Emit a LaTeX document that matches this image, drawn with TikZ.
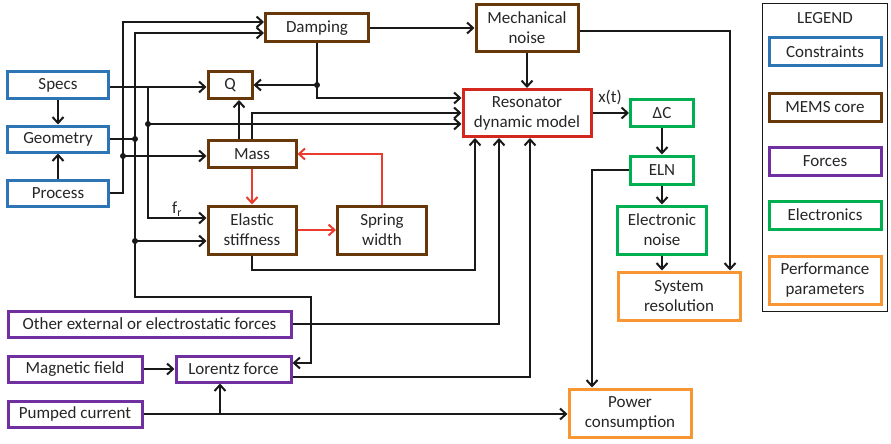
\documentclass[tikz,border=0pt]{standalone}
\usepackage{fontspec}
\setmainfont{Carlito}
\usetikzlibrary{arrows.meta,calc}
\definecolor{cblue}{RGB}{46,117,182}
\definecolor{cbrown}{RGB}{102,56,10}
\definecolor{cpurple}{RGB}{112,48,160}
\definecolor{cgreen}{RGB}{0,176,80}
\definecolor{corange}{RGB}{247,150,50}
\definecolor{cred}{RGB}{210,40,30}
\definecolor{cred2}{RGB}{235,60,45}
\definecolor{lk}{RGB}{25,25,25}
\definecolor{txt}{RGB}{38,38,38}
\tikzset{
  nbox/.style={draw, line width=3pt, fill=white, inner sep=0pt, align=center, text=txt},
  bl/.style={nbox, draw=cblue},
  br/.style={nbox, draw=cbrown},
  pu/.style={nbox, draw=cpurple},
  gr/.style={nbox, draw=cgreen},
  og/.style={nbox, draw=corange},
  rd/.style={nbox, draw=cred},
  sz/.style 2 args={minimum width=#1, minimum height=#2},
  conn/.style={line width=2pt, draw=lk},
  arr/.style={conn, -{Straight Barb[length=6pt,width=11pt]}},
  redarr/.style={arr, draw=cred2, line width=2pt},
  jdot/.style={fill=lk}
}
\begin{document}
\begin{tikzpicture}[x=1pt,y=-1pt,font=\fontsize{17}{20}\selectfont]
\useasboundingbox (0,0) rectangle (891,444);
% nodes
\node[bl, sz={101pt}{27pt}] (specs) at (58,85) {Specs};
\node[bl, sz={101pt}{26pt}] (geom) at (58,139) {Geometry};
\node[bl, sz={101pt}{26pt}] (proc) at (58,193) {Process};
\node[br, sz={103pt}{28pt}] (damp) at (317,28) {Damping};
\node[br, sz={44pt}{27pt}] (q) at (230,85) {Q};
\node[br, sz={88pt}{27pt}] (mass) at (252,154) {Mass};
\node[br, sz={88pt}{48pt}] (elas) at (252,230) {Elastic\\stiffness};
\node[br, sz={89pt}{48pt}] (spring) at (382,230) {Spring\\width};
\node[br, sz={102pt}{47pt}] (mech) at (527,28) {Mechanical\\noise};
\node[rd, sz={128pt}{47pt}] (reso) at (527,113) {Resonator\\dynamic model};
\node[gr, sz={63pt}{27pt}] (dc) at (662,113) {ΔC};
\node[gr, sz={63pt}{28pt}] (eln) at (662,170) {ELN};
\node[gr, sz={89pt}{48pt}] (enoise) at (662,230) {Electronic\\noise};
\node[og, sz={122pt}{48pt}] (sysres) at (679,296) {System\\resolution};
\node[pu, sz={283pt}{26pt}] (other) at (149.5,324) {Other external or electrostatic forces};
\node[pu, sz={134pt}{26pt}] (mag) at (75,369) {Magnetic field};
\node[pu, sz={115pt}{26pt}] (lor) at (233.5,369) {Lorentz force};
\node[pu, sz={134pt}{26pt}] (pump) at (75,414) {Pumped current};
\node[og, sz={122pt}{48pt}] (power) at (630,413) {Power\\consumption};
% legend
\node[draw=lk, line width=1.4pt, inner sep=0pt, sz={125pt}{308pt}] (legend) at (825,157.5) {};
\node[text=txt, inner sep=0pt] (legt) at (825,18.5) {LEGEND};
\node[bl, sz={112pt}{28pt}] (lc) at (825,52) {Constraints};
\node[br, sz={112pt}{28pt}] (lm) at (825,107) {MEMS core};
\node[pu, sz={112pt}{28pt}] (lf) at (825,161) {Forces};
\node[gr, sz={112pt}{28pt}] (le) at (825,215) {Electronics};
\node[og, sz={112pt}{48pt}] (lp) at (825,280) {Performance\\parameters};
% labels
\node[text=txt, inner sep=0pt] (xt) at (610,97) {x(t)};
\node[text=txt, inner sep=0pt] (fr) at (177,209) {f\textsubscript{r}};
% junctions
\coordinate (jP) at (123,156);
\coordinate (jG) at (135,139);
\coordinate (jG2) at (135,241);
\coordinate (jL) at (135,297);
\coordinate (jL2) at (311,297);
\coordinate (jS0) at (148,87);
\coordinate (jS) at (148,124);
\coordinate (jD) at (317,85);
\coordinate (mq) at ([xshift=-13pt]mass.north);
\coordinate (pl) at ([xshift=-13.5pt]lor.south);
% constraints
\draw[arr] (specs.south) -- (geom.north);
\draw[arr] (proc.north) -- (geom.south);
\draw[arr] (proc.east) -| ([xshift=-141pt,yshift=6pt]damp.west) -- ([yshift=6pt]damp.west);
\draw[arr] (jP) -- (mass.west |- jP);
\draw[conn] (geom.east) -- (jG);
\draw[arr] (jG) |- ([yshift=-5pt]damp.west);
\draw[arr] (jG) |- (elas.west |- jG2);
\draw[arr] (jG2) -- (jL) -- (jL2) |- ([yshift=6pt]lor.east);
\draw[arr] ([yshift=-2pt]specs.east) -- ([yshift=-2pt]q.west);
\draw[arr] (jS0) |- ([yshift=12pt]elas.west);
\draw[arr] (jS) -- (reso.west |- jS);
% core
\draw[conn] (damp.south) -- (jD);
\draw[arr] (jD) -- (q.east |- jD);
\draw[arr] (jD) |- ([yshift=15pt]reso.west);
\draw[arr] (mq) -- (mq |- q.south);
\draw[arr] (mass.north) |- (reso.west);
\draw[arr] (damp.east) -- (mech.west |- damp.east);
\draw[arr] (mech.south) -- (reso.north);
\draw[arr] ([yshift=-3pt]mech.east) -| ([xshift=51pt]sysres.north);
\draw[arr] (reso.east) -- (dc.west);
\draw[arr] (dc.south) -- (eln.north);
\draw[arr] (eln.south) -- (enoise.north);
\draw[arr] (enoise.south) -- (enoise.south |- sysres.north);
\draw[arr] (eln.west) -| ([xshift=-38pt]power.north);
\draw[arr] (elas.south) -- ([yshift=-14pt]elas.south) -| ([xshift=-52pt]reso.south);
\draw[arr] (other.east) -| ([xshift=-28pt]reso.south);
\draw[arr] ([yshift=-8pt]lor.east) -| ([xshift=3pt]reso.south);
\draw[arr] (mag.east) -- (lor.west);
\draw[arr] (pump.east) -- (power.west |- pump.east);
\draw[arr] (pl |- pump.east) -- (pl);
% red
\draw[redarr] (mass.south) -- (elas.north);
\draw[redarr] (elas.east) -- (spring.west);
\draw[redarr] (spring.north) |- (mass.east);
% dots
\fill[jdot] (jP) circle (3pt);
\fill[jdot] (jG) circle (3pt);
\fill[jdot] (jG2) circle (3pt);
\fill[jdot] (jS) circle (3pt);
\fill[jdot] (jD) circle (3pt);
\end{tikzpicture}
\end{document}
